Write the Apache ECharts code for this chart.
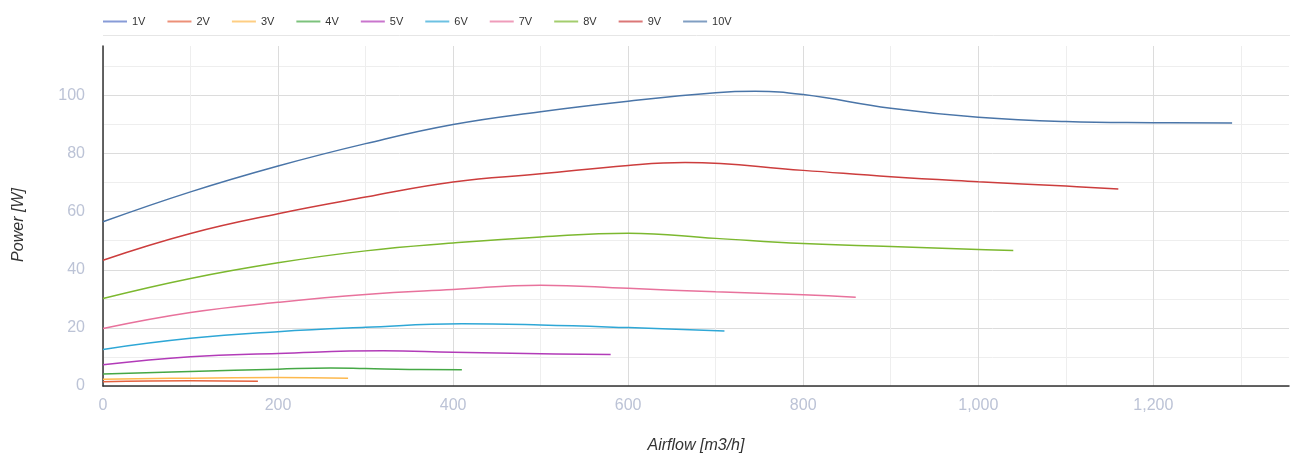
<!DOCTYPE html>
<html>
<head>
<meta charset="utf-8">
<script src="https://cdn.jsdelivr.net/npm/echarts@6/dist/echarts.min.js"></script>
<style>
html,body{margin:0;padding:0;background:#fff;}
#chart{width:1290px;height:462px;}
</style>
</head>
<body>
<div id="chart"></div>
<script>
const seriesNames = ['1V','2V','3V','4V','5V','6V','7V','8V','9V','10V'];
const xTicks = [0,200,400,600,800,1000,1200];
const yTicks = [0,20,40,60,80,100];

const x1V = [];
const p1V = [];
const x2V = [0,100,177];
const p2V = [1.5,1.8,1.6];
const x3V = [0,100,200,280];
const p3V = [2.3,2.7,2.9,2.7];
const x4V = [0,100,200,260,300,350,410];
const p4V = [4.1,5.0,5.8,6.2,6.0,5.7,5.6];
const x5V = [0,100,200,320,400,500,580];
const p5V = [7.3,10.1,11.2,12.1,11.6,11.1,10.8];
const x6V = [0,100,200,300,410,500,600,710];
const p6V = [12.6,16.4,18.7,20.2,21.4,21.0,20.1,18.9];
const x7V = [0,100,200,300,400,500,600,700,800,860];
const p7V = [19.8,25.3,28.8,31.5,33.2,34.7,33.6,32.4,31.4,30.5];
const x8V = [0,100,200,300,400,500,600,700,800,900,1000,1040];
const p8V = [30.1,37.0,42.4,46.5,49.2,51.3,52.6,50.8,49.0,48.0,47.0,46.6];
const x9V = [0,100,200,300,400,500,600,665,800,900,1000,1100,1160];
const p9V = [43.3,52.5,59.3,65.0,70.2,73.0,75.9,76.9,74.2,72.0,70.3,68.8,67.8];
const x10V = [0,100,200,300,400,500,600,700,745,800,900,1000,1100,1200,1290];
const p10V = [56.5,66.8,75.7,83.4,90.0,94.4,98.0,100.9,101.4,100.3,95.6,92.5,91.0,90.6,90.5];

const xs = [x1V,x2V,x3V,x4V,x5V,x6V,x7V,x8V,x9V,x10V];
const ps = [p1V,p2V,p3V,p4V,p5V,p6V,p7V,p8V,p9V,p10V];
const colors = ['#5470c6','#e4613f','#fdb94e','#45a845','#b23bb8','#2ea7d6','#e8729c','#7cb82f','#cc3d3d','#4a75a8'];

const series = seriesNames.map((n, i) => ({
  name: n,
  type: 'line',
  smooth: 0.45,
  showSymbol: false,
  symbol: 'none',
  color: colors[i],
  lineStyle: { width: 1.5 },
  data: xs[i].map((x, j) => [x, ps[i][j]])
}));

const labelColor = '#bcc3d6';
const font = '"Liberation Sans", Helvetica, Arial, sans-serif';

const chart = echarts.init(document.getElementById('chart'), null, { renderer: 'canvas' });
chart.setOption({
  animation: false,
  color: colors,
  legend: {
    left: 98, top: 11,
    icon: 'rect', itemWidth: 24, itemHeight: 2, itemGap: 22,
    itemStyle: { opacity: 0.7 },
    textStyle: { fontSize: 11, color: '#333', fontFamily: font, width: 15 },
    data: seriesNames
  },
  graphic: [{
    type: 'line', shape: { x1: 103, y1: 35.5, x2: 1290, y2: 35.5 },
    style: { stroke: '#e6e6e6', lineWidth: 1 }, silent: true
  }],
  grid: { left: 103, right: 1, top: 46, bottom: 76, containLabel: false },
  xAxis: {
    type: 'value', min: 0, max: 1355, interval: 200,
    name: 'Airflow [m3/h]', nameLocation: 'middle', nameGap: 52,
    nameTextStyle: { fontStyle: 'italic', fontSize: 16, color: '#333', fontFamily: font },
    axisLine: { show: true, lineStyle: { color: '#333', width: 1.5 } },
    axisTick: { show: false },
    axisLabel: {
      showMaxLabel: false, fontSize: 16, color: labelColor, fontFamily: font, margin: 12,
      formatter: v => xTicks.includes(v) ? v.toLocaleString('en-US') : ''
    },
    splitLine: { show: true, showMaxLine: false, lineStyle: { color: '#dcdcdc', width: 1 } },
    minorTick: { show: false, splitNumber: 2 },
    minorSplitLine: { show: true, lineStyle: { color: '#eeeeee', width: 1 } }
  },
  yAxis: {
    type: 'value', min: 0, max: 117, interval: 20,
    name: 'Power [W]', nameLocation: 'middle', nameGap: 76,
    nameTextStyle: { fontStyle: 'italic', fontSize: 16, color: '#333', fontFamily: font, padding: [0, 18, 0, 0] },
    axisLine: { show: true, lineStyle: { color: '#333', width: 1.5 } },
    axisTick: { show: false },
    axisLabel: {
      showMaxLabel: false, fontSize: 16, color: labelColor, fontFamily: font, margin: 18,
      formatter: v => yTicks.includes(v) ? String(v) : ''
    },
    splitLine: { show: true, showMaxLine: false, lineStyle: { color: '#dcdcdc', width: 1 } },
    minorTick: { show: false, splitNumber: 2 },
    minorSplitLine: { show: true, lineStyle: { color: '#eeeeee', width: 1 } }
  },
  series: series
});
</script>
</body>
</html>
